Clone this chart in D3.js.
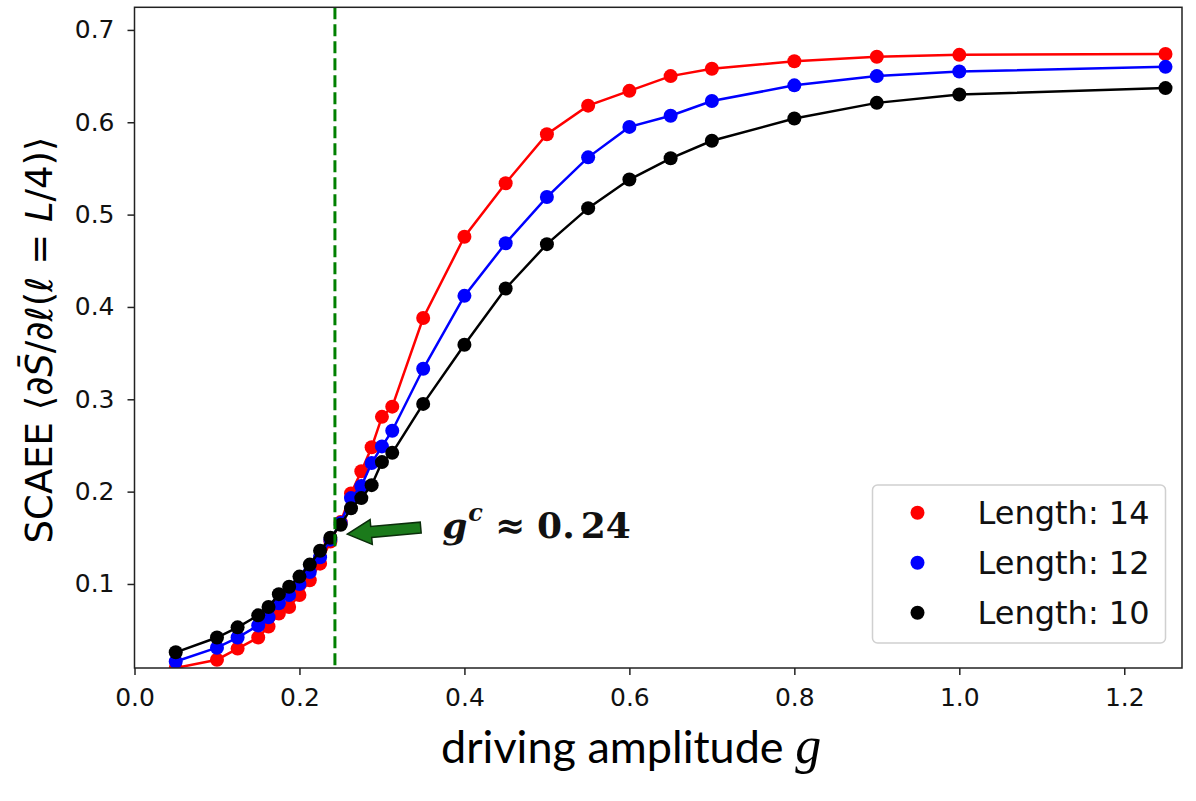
<!DOCTYPE html>
<html>
<head>
<meta charset="utf-8">
<script src="https://cdnjs.cloudflare.com/ajax/libs/d3/7.8.5/d3.min.js"></script>
<style>
body { margin: 0; background: #fff; }
svg { display: block; }
.axis text { font-family: "DejaVu Sans", sans-serif; font-size: 25px; fill: #111; }
.axis path, .axis line { stroke: #222; stroke-width: 1.5px; }
</style>
</head>
<body>
<div id="chart"></div>
<script>
// driving amplitude g (same grid for every system length)
var gValues = [0.05, 0.1, 0.125, 0.15, 0.1625, 0.175, 0.1875, 0.2, 0.2125, 0.225, 0.2375, 0.25, 0.2625, 0.275, 0.2875, 0.3, 0.3125, 0.35, 0.4, 0.45, 0.5, 0.55, 0.6, 0.65, 0.7, 0.8, 0.9, 1.0, 1.25];

// SCAEE values
var len14 = [0.009, 0.018, 0.030, 0.042, 0.054, 0.068, 0.075, 0.088, 0.104, 0.122, 0.146, 0.167, 0.198, 0.222, 0.248, 0.281, 0.292, 0.388, 0.476, 0.534, 0.587, 0.618, 0.634, 0.650, 0.658, 0.666, 0.671, 0.673, 0.674];
var len12 = [0.016, 0.031, 0.042, 0.055, 0.064, 0.079, 0.088, 0.100, 0.113, 0.129, 0.148, 0.166, 0.193, 0.206, 0.231, 0.249, 0.266, 0.333, 0.412, 0.469, 0.519, 0.562, 0.595, 0.607, 0.623, 0.640, 0.650, 0.655, 0.660];
var len10 = [0.026, 0.042, 0.053, 0.066, 0.075, 0.089, 0.097, 0.108, 0.121, 0.136, 0.150, 0.164, 0.182, 0.193, 0.207, 0.232, 0.242, 0.295, 0.359, 0.420, 0.468, 0.507, 0.538, 0.561, 0.580, 0.604, 0.621, 0.630, 0.637];

var seriesNames = ["Length: 14", "Length: 12", "Length: 10"];
var seriesColors = ["#ff0000", "#0000ff", "#000000"];
var seriesValues = [len14, len12, len10];

var xTicks = [0.0, 0.2, 0.4, 0.6, 0.8, 1.0, 1.2];
var yTicks = [0.1, 0.2, 0.3, 0.4, 0.5, 0.6, 0.7];

// critical point annotation
var gCritical = 0.243;
var gCriticalLabel = "0.24";
var arrowTip = [0.258, 0.154];
var arrowTail = [0.347, 0.161];
var labelPos = [0.373, 0.1497];

var width = 1196, height = 801;
var margin = {top: 7.3, right: 14, bottom: 133, left: 134.5};

var svg = d3.select("#chart").append("svg")
    .attr("width", width)
    .attr("height", height);

var x = d3.scaleLinear()
    .domain([0, 1.27])
    .range([margin.left, width - margin.right]);

var y = d3.scaleLinear()
    .domain([0.009, 0.7245])
    .range([height - margin.bottom, margin.top]);

// clip marks to the axes box, like matplotlib does
svg.append("clipPath").attr("id", "plotClip")
  .append("rect")
    .attr("x", x.range()[0])
    .attr("y", y.range()[1])
    .attr("width", x.range()[1] - x.range()[0])
    .attr("height", y.range()[0] - y.range()[1]);

var plot = svg.append("g").attr("clip-path", "url(#plotClip)");

var line = d3.line()
    .x(function(d) { return x(d[0]); })
    .y(function(d) { return y(d[1]); });

seriesValues.forEach(function(vals, i) {
    var pts = gValues.map(function(g, j) { return [g, vals[j]]; });
    var grp = plot.append("g");
    grp.append("path")
        .datum(pts)
        .attr("d", line)
        .attr("fill", "none")
        .attr("stroke", seriesColors[i])
        .attr("stroke-width", 2.5);
    grp.selectAll("circle")
        .data(pts)
        .enter()
        .append("circle")
        .attr("cx", function(d) { return x(d[0]); })
        .attr("cy", function(d) { return y(d[1]); })
        .attr("r", 7)
        .attr("fill", seriesColors[i]);
});

// dashed critical line
plot.append("line")
    .attr("x1", x(gCritical))
    .attr("x2", x(gCritical))
    .attr("y1", y.range()[1])
    .attr("y2", y.range()[0])
    .attr("stroke", "#008000")
    .attr("stroke-width", 3)
    .attr("stroke-dasharray", "12,5");

// axes
var xAxis = svg.append("g")
    .attr("class", "axis")
    .attr("transform", "translate(0," + y.range()[0] + ")")
    .call(d3.axisBottom(x).tickValues(xTicks).tickSize(7).tickPadding(13)
        .tickFormat(d3.format(".1f")));

var yAxis = svg.append("g")
    .attr("class", "axis")
    .attr("transform", "translate(" + x.range()[0] + ",0)")
    .call(d3.axisLeft(y).tickValues(yTicks).tickSize(7).tickPadding(13)
        .tickFormat(d3.format(".1f")));

xAxis.select(".domain").remove();
yAxis.select(".domain").remove();

// axes frame
svg.append("rect")
    .attr("x", x.range()[0])
    .attr("y", y.range()[1])
    .attr("width", x.range()[1] - x.range()[0])
    .attr("height", y.range()[0] - y.range()[1])
    .attr("fill", "none")
    .attr("stroke", "#222")
    .attr("stroke-width", 1.5);

// arrow pointing at the crossing
var tip = [x(arrowTip[0]), y(arrowTip[1])];
var tail = [x(arrowTail[0]), y(arrowTail[1])];
var ang = Math.atan2(tip[1] - tail[1], tip[0] - tail[0]);
var len = Math.hypot(tip[0] - tail[0], tip[1] - tail[1]);
var headLen = 24, headHalf = 12.5, shaftHalf = 5.5;
var arrowShape = [
    [0, -shaftHalf], [len - headLen, -shaftHalf], [len - headLen, -headHalf],
    [len, 0], [len - headLen, headHalf], [len - headLen, shaftHalf], [0, shaftHalf]
];
svg.append("path")
    .attr("d", "M" + arrowShape.map(function(p) { return p.join(","); }).join("L") + "Z")
    .attr("transform", "translate(" + tail[0] + "," + tail[1] + ") rotate(" + (ang * 180 / Math.PI) + ")")
    .attr("fill", "#1b7a1b")
    .attr("stroke", "#0b2e0b")
    .attr("stroke-width", 1.5)
    .attr("stroke-linejoin", "miter");

var ann = svg.append("text")
    .attr("x", x(labelPos[0]))
    .attr("y", y(labelPos[1]))
    .attr("font-family", "DejaVu Serif, serif")
    .attr("font-weight", "bold")
    .attr("font-size", 36)
    .attr("fill", "#111");
ann.append("tspan").attr("font-style", "italic").text("g");
ann.append("tspan").attr("font-style", "italic").attr("font-size", 24).attr("dy", -17).attr("dx", 1).text("c");
ann.append("tspan").attr("dy", 17).attr("dx", 12).text("\u2248");
ann.append("tspan").attr("dx", 12).text(gCriticalLabel.split(".")[0] + ".");
ann.append("tspan").attr("dx", 6).text(gCriticalLabel.split(".")[1]);

// legend
var legend = svg.append("g").attr("transform", "translate(872.5,485)");
legend.append("rect")
    .attr("width", 293)
    .attr("height", 158)
    .attr("rx", 5)
    .attr("fill", "#fff")
    .attr("fill-opacity", 0.8)
    .attr("stroke", "#d0d0d0")
    .attr("stroke-width", 1.5);
seriesNames.forEach(function(name, i) {
    var row = legend.append("g").attr("transform", "translate(0," + (27.7 + i * 50) + ")");
    row.append("circle")
        .attr("cx", 45)
        .attr("cy", 0)
        .attr("r", 7)
        .attr("fill", seriesColors[i]);
    row.append("text")
        .attr("x", 105)
        .attr("y", 0)
        .attr("dy", "0.36em")
        .attr("font-family", "DejaVu Sans, sans-serif")
        .attr("font-size", 32)
        .attr("fill", "#111")
        .text(name);
});

// x label
var xLabel = svg.append("text")
    .attr("x", 441)
    .attr("y", 763)
    .attr("font-family", "Lato, sans-serif")
    .attr("font-size", 45)
    .attr("fill", "#000");
xLabel.append("tspan").text("driving amplitude ");
xLabel.append("tspan")
    .attr("font-family", "Liberation Serif, serif")
    .attr("font-style", "italic")
    .attr("font-size", 52)
    .text("g");

// y label
var yLabel = svg.append("text")
    .attr("transform", "translate(52,340) rotate(-90)")
    .attr("text-anchor", "middle")
    .attr("font-family", "DejaVu Sans, sans-serif")
    .attr("font-size", 37)
    .attr("fill", "#000");
yLabel.append("tspan").text("SCAEE \u27E8\u2202");
yLabel.append("tspan").attr("font-style", "italic").text("S\u0304");
yLabel.append("tspan").text("/\u2202\u2113(\u2113 = ");
yLabel.append("tspan").attr("font-style", "italic").text("L");
yLabel.append("tspan").text("/4)\u27E9");
</script>
</body>
</html>
